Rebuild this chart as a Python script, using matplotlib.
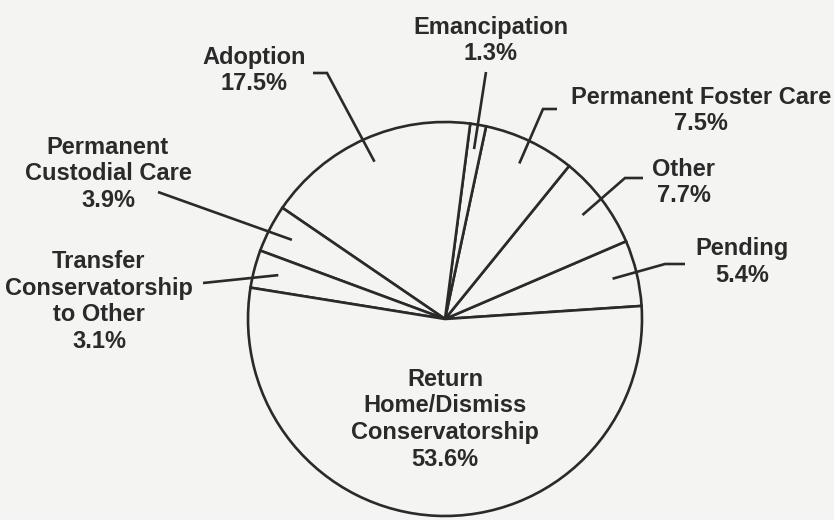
import numpy as np
import matplotlib
matplotlib.use("Agg")
import matplotlib.pyplot as plt

# Case outcomes (percent of closed cases), counter-clockwise from the right
categories = ["Pending", "Other", "Permanent Foster Care", "Emancipation",
              "Adoption", "Permanent Custodial Care",
              "Transfer Conservatorship to Other",
              "Return Home/Dismiss Conservatorship"]
shares = [5.4, 7.7, 7.5, 1.3, 17.5, 3.9, 3.1, 53.6]
label_lines = [["Pending"], ["Other"], ["Permanent Foster Care"], ["Emancipation"],
               ["Adoption"], ["Permanent", "Custodial Care"],
               ["Transfer", "Conservatorship", "to Other"],
               ["Return", "Home/Dismiss", "Conservatorship"]]

W, H = 834, 520
BG = "#f4f4f2"
INK = "#2a2a2a"

fig = plt.figure(figsize=(W / 100, H / 100), dpi=100, facecolor=BG)
ax = fig.add_axes([0, 0, 1, 1])
ax.set_facecolor(BG)

cx, cy, R = 445, H - 319, 197
wedges, _ = ax.pie(shares, startangle=3.8, counterclock=True,
                   center=(cx, cy), radius=R,
                   wedgeprops=dict(facecolor=BG, edgecolor=INK, linewidth=1.9))
ax.set_xlim(0, W)
ax.set_ylim(0, H)
ax.set_aspect("equal")
ax.axis("off")

font = dict(family=["Liberation Sans", "DejaVu Sans"], fontweight="bold",
            fontsize=17, color=INK)
LINE = 26.5  # px between text lines


def block(lines, x, top):
    """Draw a stack of centred lines whose first cap-line sits at `top` (px from top)."""
    for i, s in enumerate(lines):
        ax.text(x, H - (top + 16 + i * LINE), s, ha="center", va="baseline", **font)


# label placement: (x centre, top of first line) in pixels, and leader path
# outer points (pixels from top-left), ending inside the wedge
layout = {
    "Pending": ((742, 239), [(685, 264), (665, 264)]),
    "Other": ((684, 160), [(643, 178), (625, 178)]),
    "Permanent Foster Care": ((701, 88), [(557, 109), (543, 109)]),
    "Emancipation": ((491, 18), [(486, 72)]),
    "Adoption": ((254, 48), [(313, 73), (327, 73)]),
    "Permanent Custodial Care": ((108, 138), [(158, 192)]),
    "Transfer Conservatorship to Other": ((99, 252), [(203, 283)]),
    "Return Home/Dismiss Conservatorship": ((445, 370), None),
}

for w, cat, val, lines in zip(wedges, categories, shares, label_lines):
    (x, top), path = layout[cat]
    block(lines + [f"{val:.1f}%"], x, top)
    if path is None:
        continue
    mid = np.deg2rad((w.theta1 + w.theta2) / 2)
    rin = 0.875 * R
    xs = [p[0] for p in path] + [cx + rin * np.cos(mid)]
    ys = [H - p[1] for p in path] + [cy + rin * np.sin(mid)]
    ax.plot(xs, ys, color=INK, lw=1.9, solid_capstyle="butt", solid_joinstyle="miter")

fig.savefig("out.png", dpi=100, facecolor=BG)
